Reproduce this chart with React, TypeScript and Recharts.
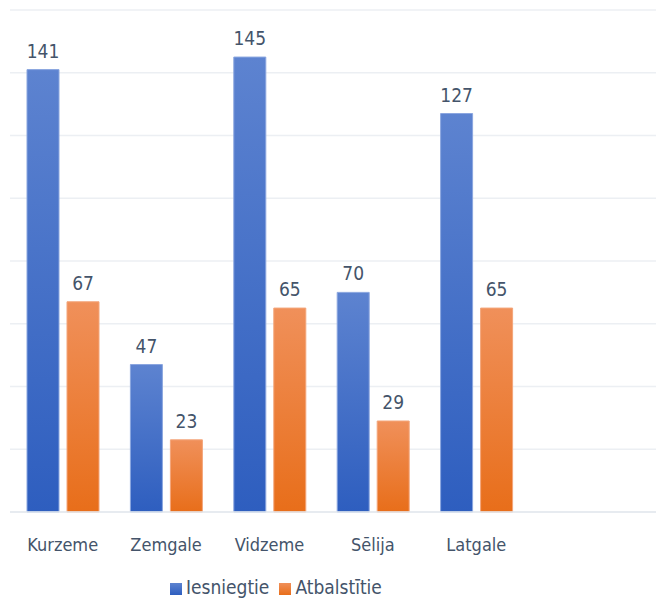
import { BarChart, Bar, XAxis, YAxis, CartesianGrid, Legend, LabelList } from "recharts";

const regions = ["Kurzeme", "Zemgale", "Vidzeme", "Sēlija", "Latgale"];
const iesniegtie = [141, 47, 145, 70, 127];
const atbalstitie = [67, 23, 65, 29, 65];
const yTicks = [0, 20, 40, 60, 80, 100, 120, 140, 160];
const seriesOrder = ["Iesniegtie", "Atbalstītie"];

const data = regions.map((region, i) => ({
  region,
  Iesniegtie: iesniegtie[i],
  Atbalstītie: atbalstitie[i],
}));

const FONT = "'DejaVu Sans Condensed', 'Liberation Sans Narrow', sans-serif";
const TEXT = "#44546a";

export default function App() {
  return (
    <div style={{ position: "absolute", left: 0, top: 0, fontFamily: FONT }}>
      <BarChart
        width={656}
        height={600}
        data={data}
        margin={{ top: 10, right: 0, left: 10, bottom: 0 }}
        barSize={32}
        barGap={8}
      >
        <defs>
          <linearGradient id="gradBlue" x1="0" y1="0" x2="0" y2="1">
            <stop offset="0%" stopColor="#5d83d0" />
            <stop offset="100%" stopColor="#2e5ebf" />
          </linearGradient>
          <linearGradient id="gradOrange" x1="0" y1="0" x2="0" y2="1">
            <stop offset="0%" stopColor="#f0905a" />
            <stop offset="100%" stopColor="#e86e1a" />
          </linearGradient>
        </defs>
        <CartesianGrid vertical={false} stroke="#eceff3" strokeWidth={1.5} />
        <XAxis
          dataKey="region"
          padding={{ left: 1, right: 128 }}
          axisLine={{ stroke: "#e3e8ee", strokeWidth: 1.5 }}
          tickLine={false}
          tick={{ fill: TEXT, fontSize: 18, fontFamily: FONT }}
          tickMargin={20}
          height={64}
        />
        <YAxis hide domain={[0, 160]} ticks={yTicks} />
        <Legend
          verticalAlign="bottom"
          align="left"
          iconType="square"
          iconSize={12}
          height={24}
          itemSorter={(item: any) => seriesOrder.indexOf(item.value)}
          wrapperStyle={{ fontFamily: FONT, fontSize: 19, color: TEXT, left: 170 }}
          formatter={(value: string) => <span style={{ color: TEXT }}>{value}</span>}
        />
        <Bar dataKey="Iesniegtie" fill="url(#gradBlue)" stroke="#8aa6df" strokeWidth={1} isAnimationActive={false}>
          <LabelList dataKey="Iesniegtie" position="top" offset={12} fill={TEXT} fontSize={19} fontFamily={FONT} />
        </Bar>
        <Bar dataKey="Atbalstītie" fill="url(#gradOrange)" stroke="#f3a57a" strokeWidth={1} isAnimationActive={false}>
          <LabelList dataKey="Atbalstītie" position="top" offset={12} fill={TEXT} fontSize={19} fontFamily={FONT} />
        </Bar>
      </BarChart>
    </div>
  );
}
